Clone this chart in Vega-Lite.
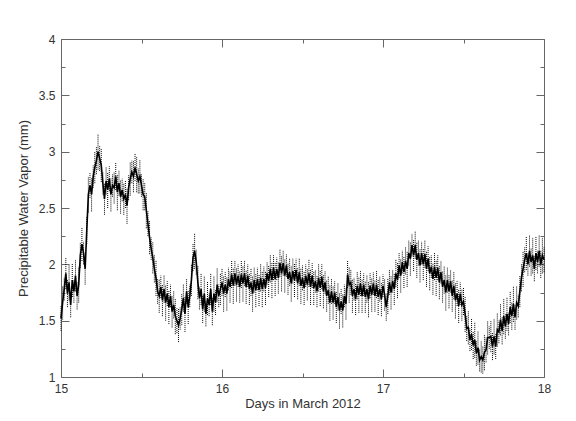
{
"$schema": "https://vega.github.io/schema/vega-lite/v6.json",
"width": 483, "height": 338,
"autosize": "none",
"padding": {"left": 61, "top": 39, "right": 32, "bottom": 44},
"background": "white",
"config": {"view": {"stroke": null}, "axis": {"labelFont": "Liberation Sans", "titleFont": "Liberation Sans", "labelFontSize": 12, "titleFontSize": 13, "titleFontWeight": "normal", "labelColor": "#333333", "titleColor": "#333333", "domainColor": "#666666", "tickColor": "#666666", "grid": false, "labelFlush": false, "labelOverlap": false}},
"data": {"values": [
{"t":15.00,"v":1.52,"e":0.11},{"t":15.01,"v":1.66,"e":0.15},{"t":15.02,"v":1.78,"e":0.10},{"t":15.03,"v":1.92,"e":0.14},{"t":15.04,"v":1.74,"e":0.12},{"t":15.05,"v":1.84,"e":0.16},
{"t":15.06,"v":1.64,"e":0.11},{"t":15.07,"v":1.86,"e":0.15},{"t":15.08,"v":1.76,"e":0.10},{"t":15.09,"v":1.90,"e":0.14},{"t":15.10,"v":1.72,"e":0.12},{"t":15.11,"v":1.82,"e":0.16},
{"t":15.12,"v":2.08,"e":0.11},{"t":15.13,"v":2.18,"e":0.15},{"t":15.14,"v":2.10,"e":0.10},{"t":15.15,"v":1.96,"e":0.14},{"t":15.16,"v":2.30,"e":0.12},{"t":15.17,"v":2.62,"e":0.16},
{"t":15.18,"v":2.70,"e":0.11},{"t":15.19,"v":2.62,"e":0.15},{"t":15.20,"v":2.78,"e":0.10},{"t":15.21,"v":2.86,"e":0.14},{"t":15.22,"v":2.92,"e":0.12},{"t":15.23,"v":3.00,"e":0.16},
{"t":15.24,"v":2.94,"e":0.11},{"t":15.25,"v":2.88,"e":0.15},{"t":15.26,"v":2.72,"e":0.10},{"t":15.27,"v":2.58,"e":0.14},{"t":15.28,"v":2.74,"e":0.12},{"t":15.29,"v":2.66,"e":0.16},
{"t":15.30,"v":2.76,"e":0.11},{"t":15.31,"v":2.62,"e":0.15},{"t":15.32,"v":2.70,"e":0.10},{"t":15.33,"v":2.68,"e":0.14},{"t":15.34,"v":2.78,"e":0.12},{"t":15.35,"v":2.64,"e":0.16},
{"t":15.36,"v":2.72,"e":0.11},{"t":15.37,"v":2.60,"e":0.15},{"t":15.38,"v":2.66,"e":0.10},{"t":15.39,"v":2.58,"e":0.14},{"t":15.40,"v":2.62,"e":0.12},{"t":15.41,"v":2.52,"e":0.16},
{"t":15.42,"v":2.68,"e":0.11},{"t":15.43,"v":2.76,"e":0.15},{"t":15.44,"v":2.82,"e":0.10},{"t":15.45,"v":2.78,"e":0.14},{"t":15.46,"v":2.86,"e":0.12},{"t":15.47,"v":2.80,"e":0.16},
{"t":15.48,"v":2.74,"e":0.11},{"t":15.49,"v":2.78,"e":0.15},{"t":15.50,"v":2.70,"e":0.10},{"t":15.51,"v":2.62,"e":0.14},{"t":15.52,"v":2.60,"e":0.12},{"t":15.53,"v":2.48,"e":0.16},
{"t":15.54,"v":2.36,"e":0.11},{"t":15.55,"v":2.24,"e":0.15},{"t":15.56,"v":2.14,"e":0.10},{"t":15.57,"v":2.06,"e":0.14},{"t":15.58,"v":1.96,"e":0.12},{"t":15.59,"v":1.88,"e":0.16},
{"t":15.60,"v":1.76,"e":0.11},{"t":15.61,"v":1.72,"e":0.15},{"t":15.62,"v":1.80,"e":0.10},{"t":15.63,"v":1.68,"e":0.14},{"t":15.64,"v":1.78,"e":0.12},{"t":15.65,"v":1.66,"e":0.16},
{"t":15.66,"v":1.74,"e":0.11},{"t":15.67,"v":1.62,"e":0.15},{"t":15.68,"v":1.72,"e":0.10},{"t":15.69,"v":1.58,"e":0.14},{"t":15.70,"v":1.64,"e":0.12},{"t":15.71,"v":1.54,"e":0.16},
{"t":15.72,"v":1.50,"e":0.11},{"t":15.73,"v":1.46,"e":0.15},{"t":15.74,"v":1.52,"e":0.10},{"t":15.75,"v":1.60,"e":0.14},{"t":15.76,"v":1.70,"e":0.12},{"t":15.77,"v":1.56,"e":0.16},
{"t":15.78,"v":1.76,"e":0.11},{"t":15.79,"v":1.62,"e":0.15},{"t":15.80,"v":1.72,"e":0.10},{"t":15.81,"v":1.86,"e":0.14},{"t":15.82,"v":2.06,"e":0.12},{"t":15.83,"v":2.12,"e":0.16},
{"t":15.84,"v":2.02,"e":0.11},{"t":15.85,"v":1.84,"e":0.15},{"t":15.86,"v":1.70,"e":0.10},{"t":15.87,"v":1.78,"e":0.14},{"t":15.88,"v":1.60,"e":0.12},{"t":15.89,"v":1.74,"e":0.16},
{"t":15.90,"v":1.56,"e":0.11},{"t":15.91,"v":1.70,"e":0.15},{"t":15.92,"v":1.64,"e":0.10},{"t":15.93,"v":1.78,"e":0.14},{"t":15.94,"v":1.58,"e":0.12},{"t":15.95,"v":1.74,"e":0.16},
{"t":15.96,"v":1.66,"e":0.11},{"t":15.97,"v":1.82,"e":0.15},{"t":15.98,"v":1.72,"e":0.10},{"t":15.99,"v":1.78,"e":0.14},{"t":16.00,"v":1.84,"e":0.12},{"t":16.01,"v":1.74,"e":0.16},
{"t":16.02,"v":1.82,"e":0.11},{"t":16.03,"v":1.74,"e":0.15},{"t":16.04,"v":1.87,"e":0.10},{"t":16.05,"v":1.80,"e":0.14},{"t":16.06,"v":1.91,"e":0.12},{"t":16.07,"v":1.81,"e":0.16},
{"t":16.08,"v":1.92,"e":0.11},{"t":16.09,"v":1.82,"e":0.15},{"t":16.10,"v":1.90,"e":0.10},{"t":16.11,"v":1.80,"e":0.14},{"t":16.12,"v":1.91,"e":0.12},{"t":16.13,"v":1.83,"e":0.16},
{"t":16.14,"v":1.92,"e":0.11},{"t":16.15,"v":1.80,"e":0.15},{"t":16.16,"v":1.90,"e":0.10},{"t":16.17,"v":1.78,"e":0.14},{"t":16.18,"v":1.84,"e":0.12},{"t":16.19,"v":1.74,"e":0.16},
{"t":16.20,"v":1.86,"e":0.11},{"t":16.21,"v":1.77,"e":0.15},{"t":16.22,"v":1.87,"e":0.10},{"t":16.23,"v":1.77,"e":0.14},{"t":16.24,"v":1.88,"e":0.12},{"t":16.25,"v":1.78,"e":0.16},
{"t":16.26,"v":1.87,"e":0.11},{"t":16.27,"v":1.79,"e":0.15},{"t":16.28,"v":1.92,"e":0.10},{"t":16.29,"v":1.85,"e":0.14},{"t":16.30,"v":1.96,"e":0.12},{"t":16.31,"v":1.86,"e":0.16},
{"t":16.32,"v":1.97,"e":0.11},{"t":16.33,"v":1.87,"e":0.15},{"t":16.34,"v":1.96,"e":0.10},{"t":16.35,"v":1.88,"e":0.14},{"t":16.36,"v":2.01,"e":0.12},{"t":16.37,"v":1.92,"e":0.16},
{"t":16.38,"v":2.01,"e":0.11},{"t":16.39,"v":1.90,"e":0.15},{"t":16.40,"v":1.99,"e":0.10},{"t":16.41,"v":1.87,"e":0.14},{"t":16.42,"v":1.93,"e":0.12},{"t":16.43,"v":1.83,"e":0.16},
{"t":16.44,"v":1.94,"e":0.11},{"t":16.45,"v":1.86,"e":0.15},{"t":16.46,"v":1.95,"e":0.10},{"t":16.47,"v":1.83,"e":0.14},{"t":16.48,"v":1.93,"e":0.12},{"t":16.49,"v":1.81,"e":0.16},
{"t":16.50,"v":1.88,"e":0.11},{"t":16.51,"v":1.79,"e":0.15},{"t":16.52,"v":1.90,"e":0.10},{"t":16.53,"v":1.82,"e":0.14},{"t":16.54,"v":1.92,"e":0.12},{"t":16.55,"v":1.80,"e":0.16},
{"t":16.56,"v":1.90,"e":0.11},{"t":16.57,"v":1.79,"e":0.15},{"t":16.58,"v":1.85,"e":0.10},{"t":16.59,"v":1.76,"e":0.14},{"t":16.60,"v":1.88,"e":0.12},{"t":16.61,"v":1.79,"e":0.16},
{"t":16.62,"v":1.89,"e":0.11},{"t":16.63,"v":1.76,"e":0.15},{"t":16.64,"v":1.84,"e":0.10},{"t":16.65,"v":1.72,"e":0.14},{"t":16.66,"v":1.77,"e":0.12},{"t":16.67,"v":1.66,"e":0.16},
{"t":16.68,"v":1.76,"e":0.11},{"t":16.69,"v":1.66,"e":0.15},{"t":16.70,"v":1.75,"e":0.10},{"t":16.71,"v":1.62,"e":0.14},{"t":16.72,"v":1.71,"e":0.12},{"t":16.73,"v":1.59,"e":0.16},
{"t":16.74,"v":1.67,"e":0.11},{"t":16.75,"v":1.59,"e":0.15},{"t":16.76,"v":1.72,"e":0.10},{"t":16.77,"v":1.65,"e":0.14},{"t":16.78,"v":1.91,"e":0.12},{"t":16.79,"v":1.82,"e":0.16},
{"t":16.80,"v":1.84,"e":0.11},{"t":16.81,"v":1.72,"e":0.15},{"t":16.82,"v":1.78,"e":0.10},{"t":16.83,"v":1.69,"e":0.14},{"t":16.84,"v":1.81,"e":0.12},{"t":16.85,"v":1.73,"e":0.16},
{"t":16.86,"v":1.83,"e":0.11},{"t":16.87,"v":1.72,"e":0.15},{"t":16.88,"v":1.82,"e":0.10},{"t":16.89,"v":1.71,"e":0.14},{"t":16.90,"v":1.78,"e":0.12},{"t":16.91,"v":1.69,"e":0.16},
{"t":16.92,"v":1.81,"e":0.11},{"t":16.93,"v":1.73,"e":0.15},{"t":16.94,"v":1.83,"e":0.10},{"t":16.95,"v":1.72,"e":0.14},{"t":16.96,"v":1.82,"e":0.12},{"t":16.97,"v":1.71,"e":0.16},
{"t":16.98,"v":1.78,"e":0.11},{"t":16.99,"v":1.69,"e":0.15},{"t":17.00,"v":1.81,"e":0.10},{"t":17.01,"v":1.73,"e":0.14},{"t":17.02,"v":1.62,"e":0.12},{"t":17.03,"v":1.72,"e":0.16},
{"t":17.04,"v":1.84,"e":0.11},{"t":17.05,"v":1.75,"e":0.15},{"t":17.06,"v":1.85,"e":0.10},{"t":17.07,"v":1.78,"e":0.14},{"t":17.08,"v":1.92,"e":0.12},{"t":17.09,"v":1.86,"e":0.16},
{"t":17.10,"v":1.99,"e":0.11},{"t":17.11,"v":1.90,"e":0.15},{"t":17.12,"v":2.02,"e":0.10},{"t":17.13,"v":1.93,"e":0.14},{"t":17.14,"v":2.03,"e":0.12},{"t":17.15,"v":1.96,"e":0.16},
{"t":17.16,"v":2.10,"e":0.11},{"t":17.17,"v":2.05,"e":0.15},{"t":17.18,"v":2.17,"e":0.10},{"t":17.19,"v":2.08,"e":0.14},{"t":17.20,"v":2.17,"e":0.12},{"t":17.21,"v":2.04,"e":0.16},
{"t":17.22,"v":2.10,"e":0.11},{"t":17.23,"v":1.99,"e":0.15},{"t":17.24,"v":2.10,"e":0.10},{"t":17.25,"v":2.00,"e":0.14},{"t":17.26,"v":2.09,"e":0.12},{"t":17.27,"v":1.96,"e":0.16},
{"t":17.28,"v":2.05,"e":0.11},{"t":17.29,"v":1.92,"e":0.15},{"t":17.30,"v":1.98,"e":0.10},{"t":17.31,"v":1.87,"e":0.14},{"t":17.32,"v":1.98,"e":0.12},{"t":17.33,"v":1.88,"e":0.16},
{"t":17.34,"v":1.97,"e":0.11},{"t":17.35,"v":1.84,"e":0.15},{"t":17.36,"v":1.93,"e":0.10},{"t":17.37,"v":1.80,"e":0.14},{"t":17.38,"v":1.86,"e":0.12},{"t":17.39,"v":1.75,"e":0.16},
{"t":17.40,"v":1.86,"e":0.11},{"t":17.41,"v":1.76,"e":0.15},{"t":17.42,"v":1.85,"e":0.10},{"t":17.43,"v":1.72,"e":0.14},{"t":17.44,"v":1.81,"e":0.12},{"t":17.45,"v":1.68,"e":0.16},
{"t":17.46,"v":1.74,"e":0.11},{"t":17.47,"v":1.63,"e":0.15},{"t":17.48,"v":1.74,"e":0.10},{"t":17.49,"v":1.64,"e":0.14},{"t":17.50,"v":1.67,"e":0.12},{"t":17.51,"v":1.56,"e":0.16},
{"t":17.52,"v":1.43,"e":0.11},{"t":17.53,"v":1.44,"e":0.15},{"t":17.54,"v":1.33,"e":0.10},{"t":17.55,"v":1.38,"e":0.14},{"t":17.56,"v":1.28,"e":0.12},{"t":17.57,"v":1.33,"e":0.16},
{"t":17.58,"v":1.21,"e":0.11},{"t":17.59,"v":1.26,"e":0.15},{"t":17.60,"v":1.15,"e":0.10},{"t":17.61,"v":1.18,"e":0.14},{"t":17.62,"v":1.15,"e":0.12},{"t":17.63,"v":1.22,"e":0.16},
{"t":17.64,"v":1.24,"e":0.11},{"t":17.65,"v":1.35,"e":0.15},{"t":17.66,"v":1.35,"e":0.10},{"t":17.67,"v":1.36,"e":0.14},{"t":17.68,"v":1.27,"e":0.12},{"t":17.69,"v":1.36,"e":0.16},
{"t":17.70,"v":1.27,"e":0.11},{"t":17.71,"v":1.42,"e":0.15},{"t":17.72,"v":1.40,"e":0.10},{"t":17.73,"v":1.51,"e":0.14},{"t":17.74,"v":1.41,"e":0.12},{"t":17.75,"v":1.54,"e":0.16},
{"t":17.76,"v":1.45,"e":0.11},{"t":17.77,"v":1.56,"e":0.15},{"t":17.78,"v":1.47,"e":0.10},{"t":17.79,"v":1.62,"e":0.14},{"t":17.80,"v":1.54,"e":0.12},{"t":17.81,"v":1.65,"e":0.16},
{"t":17.82,"v":1.53,"e":0.11},{"t":17.83,"v":1.66,"e":0.15},{"t":17.84,"v":1.63,"e":0.10},{"t":17.85,"v":1.76,"e":0.14},{"t":17.86,"v":1.88,"e":0.12},{"t":17.87,"v":1.96,"e":0.16},
{"t":17.88,"v":2.04,"e":0.11},{"t":17.89,"v":2.10,"e":0.15},{"t":17.90,"v":2.00,"e":0.10},{"t":17.91,"v":2.12,"e":0.14},{"t":17.92,"v":2.02,"e":0.12},{"t":17.93,"v":2.08,"e":0.16},
{"t":17.94,"v":1.96,"e":0.11},{"t":17.95,"v":2.10,"e":0.15},{"t":17.96,"v":2.02,"e":0.10},{"t":17.97,"v":2.12,"e":0.14},{"t":17.98,"v":2.00,"e":0.12},{"t":17.99,"v":2.08,"e":0.16},
{"t":18.00,"v":2.04,"e":0.11}
]},
"layer": [
 {"mark": {"type": "errorbar", "ticks": false, "color": "black", "rule": {"strokeDash": [1, 1], "strokeWidth": 1}},
  "encoding": {
   "x": {"field": "t", "type": "quantitative", "scale": {"domain": [15, 18], "nice": false, "zero": false},
         "axis": {"orient": "bottom", "values": [15, 16, 17, 18], "ticks": false, "labelPadding": 6, "title": "Days in March 2012", "titlePadding": 3}},
   "y": {"field": "v", "type": "quantitative", "scale": {"domain": [1, 4], "nice": false, "zero": false},
         "axis": {"orient": "left", "values": [1, 1.5, 2, 2.5, 3, 3.5, 4], "format": "~g", "ticks": false, "labelPadding": 6, "title": "Precipitable Water Vapor (mm)", "titlePadding": 8}},
   "yError": {"field": "e"}
  }},
 {"mark": {"type": "line", "color": "black", "strokeWidth": 1.6},
  "encoding": {
   "x": {"field": "t", "type": "quantitative", "axis": {"orient": "top", "values": [15, 16, 17, 18], "tickSize": -8, "labels": false, "title": null}},
   "y": {"field": "v", "type": "quantitative", "axis": {"orient": "right", "values": [1, 1.5, 2, 2.5, 3, 3.5, 4], "tickSize": -8, "labels": false, "title": null}}
  }},
 {"mark": {"type": "point", "opacity": 0},
  "encoding": {
   "x": {"field": "t", "type": "quantitative", "axis": {"orient": "bottom", "values": [15, 16, 17, 18], "tickSize": -8, "domain": false, "labels": false, "title": null}},
   "y": {"field": "v", "type": "quantitative", "axis": {"orient": "left", "values": [1, 1.5, 2, 2.5, 3, 3.5, 4], "tickSize": -8, "domain": false, "labels": false, "title": null}}
  }},
 {"mark": {"type": "point", "opacity": 0},
  "encoding": {
   "x": {"field": "t", "type": "quantitative", "axis": {"orient": "bottom", "values": [15.5, 16.5, 17.5], "tickSize": -4, "domain": false, "labels": false, "title": null}},
   "y": {"field": "v", "type": "quantitative", "axis": {"orient": "left", "values": [1.25, 1.75, 2.25, 2.75, 3.25, 3.75], "tickSize": -4, "domain": false, "labels": false, "title": null}}
  }},
 {"mark": {"type": "point", "opacity": 0},
  "encoding": {
   "x": {"field": "t", "type": "quantitative", "axis": {"orient": "top", "values": [15.5, 16.5, 17.5], "tickSize": -4, "domain": false, "labels": false, "title": null}},
   "y": {"field": "v", "type": "quantitative", "axis": {"orient": "right", "values": [1.25, 1.75, 2.25, 2.75, 3.25, 3.75], "tickSize": -4, "domain": false, "labels": false, "title": null}}
  }}
],
"resolve": {"axis": {"x": "independent", "y": "independent"}}
}
